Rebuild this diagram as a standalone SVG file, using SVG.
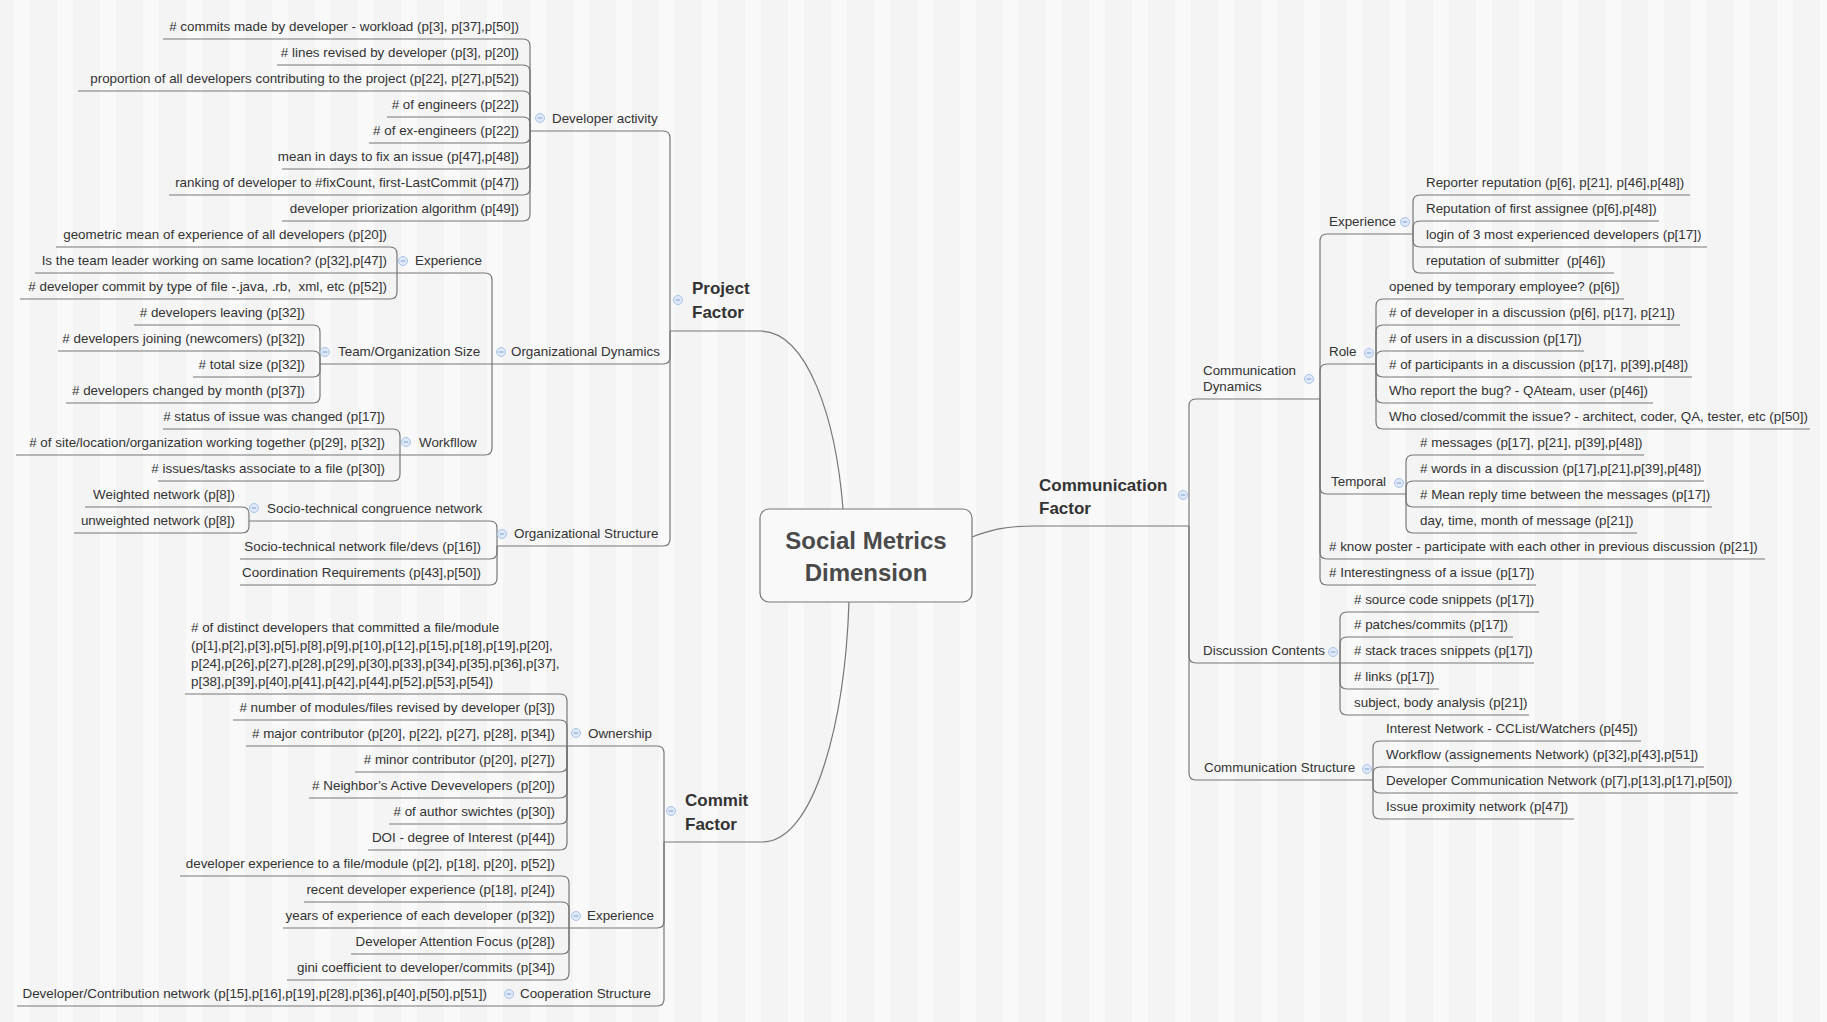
<svg xmlns="http://www.w3.org/2000/svg" xmlns:xlink="http://www.w3.org/1999/xlink" width="1827" height="1022" viewBox="0 0 1827 1022">
<defs>
<pattern id="bg" width="43" height="1022" patternUnits="userSpaceOnUse">
<rect width="43" height="1022" fill="#f4f4f4"/>
<rect x="14" width="16" height="1022" fill="#f9f9f9"/>
</pattern>
<g id="ic"><circle r="4.5" fill="#dfe9f8" stroke="#a9c3e8" stroke-width="1"/><line x1="-2.2" y1="0" x2="2.2" y2="0" stroke="#7c9fd6" stroke-width="1"/></g>
</defs>
<style>
text{font-family:"Liberation Sans",Arial,sans-serif;font-size:13.4px;fill:#333}
.e{text-anchor:end}
.b{font-size:17px;font-weight:bold;fill:#333}
.c{font-size:24px;font-weight:bold;fill:#4a4a4a;text-anchor:middle}
.ln path{fill:none;stroke:#777;stroke-width:1.2}
</style>
<rect width="1827" height="1022" fill="url(#bg)"/>

<g class="ln" id="connectors">
<path d="M843 509 C836 420 808 331 760 331 H670"/>
<path d="M849 602 C845 720 815 842 762 842 H664"/>
<path d="M972 537 C990 530 1005 526 1034 526 H1189"/>
<path d="M670 331 V138 Q670 131 663 131 H530"/>
<path d="M670 331 V357 Q670 364 663 364 H492"/>
<path d="M670 331 V539 Q670 546 663 546 H497"/>
<path d="M530 131 V46 Q530 39 523 39 H163"/>
<path d="M530 131 V72 Q530 65 523 65 H277"/>
<path d="M530 131 V98 Q530 91 523 91 H78"/>
<path d="M530 131 V124 Q530 117 523 117 H387"/>
<path d="M530 131 V136 Q530 143 523 143 H369"/>
<path d="M530 131 V162 Q530 169 523 169 H282"/>
<path d="M530 131 V188 Q530 195 523 195 H169"/>
<path d="M530 131 V214 Q530 221 523 221 H282"/>
<path d="M492 364 V280 Q492 273 485 273 H397"/>
<path d="M492 364 H320"/>
<path d="M492 364 V448 Q492 455 485 455 H400"/>
<path d="M397 273 V254 Q397 247 390 247 H56"/>
<path d="M397 273 H35"/>
<path d="M397 273 V292 Q397 299 390 299 H20"/>
<path d="M320 364 V332 Q320 325 313 325 H134"/>
<path d="M320 364 V358 Q320 351 313 351 H58"/>
<path d="M320 364 V370 Q320 377 313 377 H193"/>
<path d="M320 364 V396 Q320 403 313 403 H66"/>
<path d="M400 455 V436 Q400 429 393 429 H163"/>
<path d="M400 455 H16"/>
<path d="M400 455 V474 Q400 481 393 481 H158"/>
<path d="M497 546 V528 Q497 521 490 521 H249"/>
<path d="M497 546 V552 Q497 559 490 559 H240"/>
<path d="M497 546 V578 Q497 585 490 585 H240"/>
<path d="M249 521 V514 Q249 507 242 507 H85"/>
<path d="M249 521 V526 Q249 533 242 533 H74"/>
<path d="M664 842 V753 Q664 746 657 746 H567"/>
<path d="M664 842 V921 Q664 928 657 928 H569"/>
<path d="M664 842 V999 Q664 1006 657 1006 H17"/>
<path d="M567 746 V701 Q567 694 560 694 H185"/>
<path d="M567 746 V727 Q567 720 560 720 H233"/>
<path d="M567 746 H246"/>
<path d="M567 746 V765 Q567 772 560 772 H355"/>
<path d="M567 746 V791 Q567 798 560 798 H309"/>
<path d="M567 746 V817 Q567 824 560 824 H389"/>
<path d="M567 746 V843 Q567 850 560 850 H368"/>
<path d="M569 928 V883 Q569 876 562 876 H180"/>
<path d="M569 928 V909 Q569 902 562 902 H304"/>
<path d="M569 928 H283"/>
<path d="M569 928 V947 Q569 954 562 954 H351"/>
<path d="M569 928 V973 Q569 980 562 980 H287"/>
<path d="M1189 526 V406 Q1189 399 1196 399 H1320"/>
<path d="M1189 526 V656 Q1189 663 1196 663 H1340"/>
<path d="M1189 526 V773 Q1189 780 1196 780 H1373"/>
<path d="M1320 399 V241 Q1320 234 1327 234 H1413"/>
<path d="M1320 399 V371 Q1320 364 1327 364 H1376"/>
<path d="M1320 399 V487 Q1320 494 1327 494 H1406"/>
<path d="M1320 399 V552 Q1320 559 1327 559 H1765"/>
<path d="M1320 399 V578 Q1320 585 1327 585 H1536"/>
<path d="M1413 234 V202 Q1413 195 1420 195 H1690"/>
<path d="M1413 234 V228 Q1413 221 1420 221 H1659"/>
<path d="M1413 234 V240 Q1413 247 1420 247 H1707"/>
<path d="M1413 234 V266 Q1413 273 1420 273 H1614"/>
<path d="M1376 364 V306 Q1376 299 1383 299 H1624"/>
<path d="M1376 364 V332 Q1376 325 1383 325 H1680"/>
<path d="M1376 364 V358 Q1376 351 1383 351 H1584"/>
<path d="M1376 364 V370 Q1376 377 1383 377 H1692"/>
<path d="M1376 364 V396 Q1376 403 1383 403 H1653"/>
<path d="M1376 364 V422 Q1376 429 1383 429 H1810"/>
<path d="M1406 494 V462 Q1406 455 1413 455 H1644"/>
<path d="M1406 494 V488 Q1406 481 1413 481 H1704"/>
<path d="M1406 494 V500 Q1406 507 1413 507 H1712"/>
<path d="M1406 494 V526 Q1406 533 1413 533 H1637"/>
<path d="M1340 663 V619 Q1340 612 1347 612 H1539"/>
<path d="M1340 663 V644 Q1340 637 1347 637 H1513"/>
<path d="M1340 663 H1534"/>
<path d="M1340 663 V682 Q1340 689 1347 689 H1439"/>
<path d="M1340 663 V708 Q1340 715 1347 715 H1529"/>
<path d="M1373 780 V748 Q1373 741 1380 741 H1641"/>
<path d="M1373 780 V774 Q1373 767 1380 767 H1704"/>
<path d="M1373 780 V786 Q1373 793 1380 793 H1738"/>
<path d="M1373 780 V812 Q1373 819 1380 819 H1574"/>
</g>

<g id="root">
<rect x="760" y="509" width="212" height="93" rx="9" fill="#f9f9f9" stroke="#777" stroke-width="1.2"/>
<text class="c" x="866" y="549">Social Metrics</text>
<text class="c" x="866" y="581">Dimension</text>
</g>

<g id="project-factor"><use xlink:href="#ic" x="678" y="300"/><text class="b" x="692" y="294">Project</text><text class="b" x="692" y="318">Factor</text></g>
<g id="developer-activity"><use xlink:href="#ic" x="540" y="118"/><text x="552" y="122.5">Developer activity</text></g>
<g id="da-1"><text class="e" x="519" y="30.5"># commits made by developer - workload (p[3], p[37],p[50])</text></g>
<g id="da-2"><text class="e" x="519" y="56.5"># lines revised by developer (p[3], p[20])</text></g>
<g id="da-3"><text class="e" x="519" y="82.5">proportion of all developers contributing to the project (p[22], p[27],p[52])</text></g>
<g id="da-4"><text class="e" x="519" y="108.5"># of engineers (p[22])</text></g>
<g id="da-5"><text class="e" x="519" y="134.5"># of ex-engineers (p[22])</text></g>
<g id="da-6"><text class="e" x="519" y="160.5">mean in days to fix an issue (p[47],p[48])</text></g>
<g id="da-7"><text class="e" x="519" y="186.5">ranking of developer to #fixCount, first-LastCommit (p[47])</text></g>
<g id="da-8"><text class="e" x="519" y="212.5">developer priorization algorithm (p[49])</text></g>

<g id="org-dynamics"><use xlink:href="#ic" x="501" y="352"/><text x="511" y="355.5">Organizational Dynamics</text></g>
<g id="od-experience"><use xlink:href="#ic" x="403" y="261"/><text x="415" y="264.5">Experience</text></g>
<g id="ode-1"><text class="e" x="387" y="238.5">geometric mean of experience of all developers (p[20])</text></g>
<g id="ode-2"><text class="e" x="387" y="264.5">Is the team leader working on same location? (p[32],p[47])</text></g>
<g id="ode-3"><text class="e" x="387" y="290.5" xml:space="preserve"># developer commit by type of file -.java, .rb,  xml, etc (p[52])</text></g>
<g id="team-size"><use xlink:href="#ic" x="325" y="352"/><text x="338" y="355.5">Team/Organization Size</text></g>
<g id="ts-1"><text class="e" x="305" y="316.5"># developers leaving (p[32])</text></g>
<g id="ts-2"><text class="e" x="305" y="342.5"># developers joining (newcomers) (p[32])</text></g>
<g id="ts-3"><text class="e" x="305" y="368.5"># total size (p[32])</text></g>
<g id="ts-4"><text class="e" x="305" y="394.5"># developers changed by month (p[37])</text></g>
<g id="workflow"><use xlink:href="#ic" x="406" y="442"/><text x="419" y="446.5">Workfllow</text></g>
<g id="wf-1"><text class="e" x="385" y="420.5"># status of issue was changed (p[17])</text></g>
<g id="wf-2"><text class="e" x="385" y="446.5"># of site/location/organization working together (p[29], p[32])</text></g>
<g id="wf-3"><text class="e" x="385" y="472.5"># issues/tasks associate to a file (p[30])</text></g>

<g id="org-structure"><use xlink:href="#ic" x="502" y="534"/><text x="514" y="537.5">Organizational Structure</text></g>
<g id="socio-congruence"><use xlink:href="#ic" x="254" y="508"/><text x="267" y="512.5">Socio-technical congruence network</text></g>
<g id="sc-1"><text class="e" x="235" y="498.5">Weighted network (p[8])</text></g>
<g id="sc-2"><text class="e" x="235" y="524.5">unweighted network (p[8])</text></g>
<g id="os-2"><text class="e" x="481" y="550.5">Socio-technical network file/devs (p[16])</text></g>
<g id="os-3"><text class="e" x="481" y="576.5">Coordination Requirements (p[43],p[50])</text></g>

<g id="commit-factor"><use xlink:href="#ic" x="671" y="811"/><text class="b" x="685" y="806">Commit</text><text class="b" x="685" y="829.5">Factor</text></g>
<g id="ownership"><use xlink:href="#ic" x="576" y="733"/><text x="588" y="737.5">Ownership</text></g>
<g id="ow-1"><text x="191" y="631.5"># of distinct developers that committed a file/module</text>
<text x="191" y="649.5">(p[1],p[2],p[3],p[5],p[8],p[9],p[10],p[12],p[15],p[18],p[19],p[20],</text>
<text x="191" y="667.5">p[24],p[26],p[27],p[28],p[29],p[30],p[33],p[34],p[35],p[36],p[37],</text>
<text x="191" y="685.5">p[38],p[39],p[40],p[41],p[42],p[44],p[52],p[53],p[54])</text></g>
<g id="ow-2"><text class="e" x="555" y="711.5"># number of modules/files revised by developer (p[3])</text></g>
<g id="ow-3"><text class="e" x="555" y="737.5"># major contributor (p[20], p[22], p[27], p[28], p[34])</text></g>
<g id="ow-4"><text class="e" x="555" y="763.5"># minor contributor (p[20], p[27])</text></g>
<g id="ow-5"><text class="e" x="555" y="789.5"># Neighbor’s Active Devevelopers (p[20])</text></g>
<g id="ow-6"><text class="e" x="555" y="815.5"># of author swichtes (p[30])</text></g>
<g id="ow-7"><text class="e" x="555" y="841.5">DOI - degree of Interest (p[44])</text></g>
<g id="cm-experience"><use xlink:href="#ic" x="576" y="916"/><text x="587" y="919.5">Experience</text></g>
<g id="ce-1"><text class="e" x="555" y="867.5">developer experience to a file/module (p[2], p[18], p[20], p[52])</text></g>
<g id="ce-2"><text class="e" x="555" y="893.5">recent developer experience (p[18], p[24])</text></g>
<g id="ce-3"><text class="e" x="555" y="919.5">years of experience of each developer (p[32])</text></g>
<g id="ce-4"><text class="e" x="555" y="945.5">Developer Attention Focus (p[28])</text></g>
<g id="ce-5"><text class="e" x="555" y="971.5">gini coefficient to developer/commits (p[34])</text></g>
<g id="cooperation"><use xlink:href="#ic" x="509" y="994"/><text x="520" y="997.5">Cooperation Structure</text></g>
<g id="co-1"><text class="e" x="487" y="997.5">Developer/Contribution network (p[15],p[16],p[19],p[28],p[36],p[40],p[50],p[51])</text></g>

<g id="communication-factor"><use xlink:href="#ic" x="1183" y="495"/><text class="b" x="1039" y="491">Communication</text><text class="b" x="1039" y="514">Factor</text></g>
<g id="comm-dynamics"><use xlink:href="#ic" x="1309" y="379"/><text x="1203" y="375">Communication</text><text x="1203" y="391">Dynamics</text></g>
<g id="cd-experience"><use xlink:href="#ic" x="1405" y="222"/><text x="1329" y="225.5">Experience</text></g>
<g id="cx-1"><text x="1426" y="186.5">Reporter reputation (p[6], p[21], p[46],p[48])</text></g>
<g id="cx-2"><text x="1426" y="212.5">Reputation of first assignee (p[6],p[48])</text></g>
<g id="cx-3"><text x="1426" y="238.5">login of 3 most experienced developers (p[17])</text></g>
<g id="cx-4"><text x="1426" y="264.5" xml:space="preserve">reputation of submitter  (p[46])</text></g>
<g id="role"><use xlink:href="#ic" x="1369" y="353"/><text x="1329" y="355.5">Role</text></g>
<g id="ro-1"><text x="1389" y="290.5">opened by temporary employee? (p[6])</text></g>
<g id="ro-2"><text x="1389" y="316.5"># of developer in a discussion (p[6], p[17], p[21])</text></g>
<g id="ro-3"><text x="1389" y="342.5"># of users in a discussion (p[17])</text></g>
<g id="ro-4"><text x="1389" y="368.5"># of participants in a discussion (p[17], p[39],p[48])</text></g>
<g id="ro-5"><text x="1389" y="394.5">Who report the bug? - QAteam, user (p[46])</text></g>
<g id="ro-6"><text x="1389" y="420.5">Who closed/commit the issue? - architect, coder, QA, tester, etc (p[50])</text></g>
<g id="temporal"><use xlink:href="#ic" x="1399" y="483"/><text x="1331" y="485.5">Temporal</text></g>
<g id="te-1"><text x="1420" y="446.5"># messages (p[17], p[21], p[39],p[48])</text></g>
<g id="te-2"><text x="1420" y="472.5"># words in a discussion (p[17],p[21],p[39],p[48])</text></g>
<g id="te-3"><text x="1420" y="498.5"># Mean reply time between the messages (p[17])</text></g>
<g id="te-4"><text x="1420" y="524.5">day, time, month of message (p[21])</text></g>
<g id="cd-know"><text x="1329" y="550.5"># know poster - participate with each other in previous discussion (p[21])</text></g>
<g id="cd-interest"><text x="1329" y="576.5"># Interestingness of a issue (p[17])</text></g>
<g id="discussion"><use xlink:href="#ic" x="1333" y="652"/><text x="1203" y="655">Discussion Contents</text></g>
<g id="dc-1"><text x="1354" y="603.5"># source code snippets (p[17])</text></g>
<g id="dc-2"><text x="1354" y="628.5"># patches/commits (p[17])</text></g>
<g id="dc-3"><text x="1354" y="654.5"># stack traces snippets (p[17])</text></g>
<g id="dc-4"><text x="1354" y="680.5"># links (p[17])</text></g>
<g id="dc-5"><text x="1354" y="706.5">subject, body analysis (p[21])</text></g>
<g id="comm-structure"><use xlink:href="#ic" x="1367" y="769"/><text x="1204" y="772">Communication Structure</text></g>
<g id="cs-1"><text x="1386" y="732.5">Interest Network - CCList/Watchers (p[45])</text></g>
<g id="cs-2"><text x="1386" y="758.5">Workflow (assignements Network) (p[32],p[43],p[51])</text></g>
<g id="cs-3"><text x="1386" y="784.5">Developer Communication Network (p[7],p[13],p[17],p[50])</text></g>
<g id="cs-4"><text x="1386" y="810.5">Issue proximity network (p[47])</text></g>
</svg>
